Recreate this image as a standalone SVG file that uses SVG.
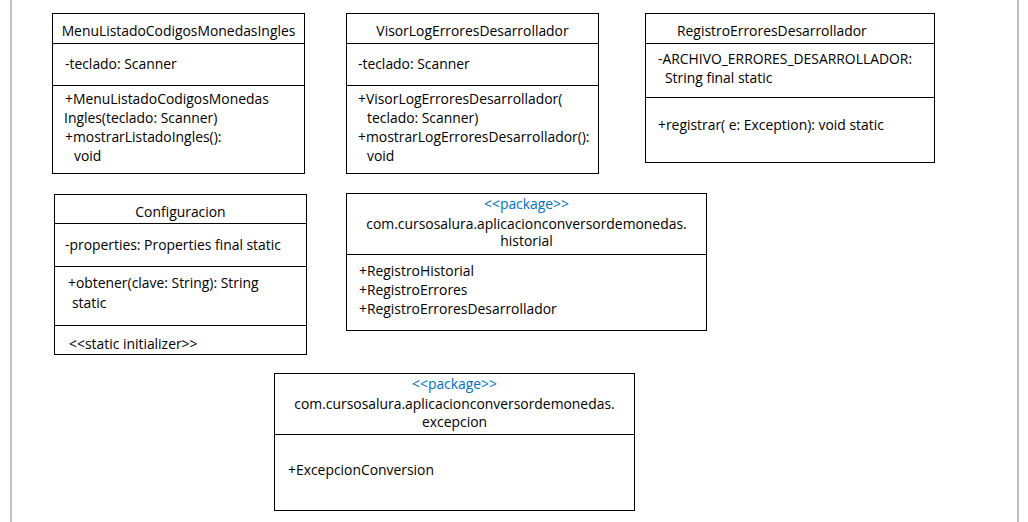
<svg xmlns="http://www.w3.org/2000/svg" width="1028" height="522" viewBox="0 0 1028 522">
<style>
.b{fill:#fff;stroke:#000;stroke-width:1}
.d{stroke:#000;stroke-width:1}
text{font-family:"Open Sans","Liberation Sans",sans-serif;font-size:13.9px;fill:#000}
.c{text-anchor:middle}
.p{fill:#0070C0}
.g{stroke:#c0c0c0;stroke-width:2}
</style>
<rect width="1028" height="522" fill="#fff"/>
<line class="g" x1="11" y1="0" x2="11" y2="522"/>
<line class="g" x1="1018" y1="0" x2="1018" y2="522"/>
<g id="connectors"></g>
<g id="MenuListadoCodigosMonedasIngles">
<rect class="b" x="52.5" y="13.5" width="252" height="160"/>
<line class="d" x1="52.5" y1="43.5" x2="304.5" y2="43.5"/>
<line class="d" x1="52.5" y1="85.5" x2="304.5" y2="85.5"/>
<text class="c" x="178.5" y="36">MenuListadoCodigosMonedasIngles</text>
<text x="65" y="69">-teclado: Scanner</text>
<text x="65" y="104">+MenuListadoCodigosMonedas</text>
<text x="64" y="123">Ingles(teclado: Scanner)</text>
<text x="65" y="142">+mostrarListadoIngles():</text>
<text x="74" y="161">void</text>
</g>
<g id="VisorLogErroresDesarrollador">
<rect class="b" x="346.5" y="13.5" width="252" height="160"/>
<line class="d" x1="346.5" y1="43.5" x2="598.5" y2="43.5"/>
<line class="d" x1="346.5" y1="85.5" x2="598.5" y2="85.5"/>
<text class="c" x="472.5" y="36">VisorLogErroresDesarrollador</text>
<text x="358" y="69">-teclado: Scanner</text>
<text x="358" y="104">+VisorLogErroresDesarrollador(</text>
<text x="367" y="123">teclado: Scanner)</text>
<text x="358" y="142">+mostrarLogErroresDesarrollador():</text>
<text x="367" y="161">void</text>
</g>
<g id="RegistroErroresDesarrollador">
<rect class="b" x="645.5" y="13.5" width="289" height="149"/>
<line class="d" x1="645.5" y1="43.5" x2="934.5" y2="43.5"/>
<line class="d" x1="645.5" y1="97.5" x2="934.5" y2="97.5"/>
<text x="677" y="36">RegistroErroresDesarrollador</text>
<text x="658" y="64">-ARCHIVO_ERRORES_DESARROLLADOR:</text>
<text x="665" y="83">String final static</text>
<text x="658" y="130">+registrar( e: Exception): void static</text>
</g>
<g id="Configuracion">
<rect class="b" x="54.5" y="194.5" width="252" height="160"/>
<line class="d" x1="54.5" y1="223.5" x2="306.5" y2="223.5"/>
<line class="d" x1="54.5" y1="266.5" x2="306.5" y2="266.5"/>
<line class="d" x1="54.5" y1="325.5" x2="306.5" y2="325.5"/>
<text class="c" x="180.5" y="217">Configuracion</text>
<text x="65" y="250">-properties: Properties final static</text>
<text x="68" y="288">+obtener(clave: String): String</text>
<text x="72" y="308">static</text>
<text x="69" y="349">&lt;&lt;static initializer&gt;&gt;</text>
</g>
<g id="package_historial">
<rect class="b" x="346.5" y="193.5" width="360" height="137"/>
<line class="d" x1="346.5" y1="254.5" x2="706.5" y2="254.5"/>
<text class="c p" x="526.5" y="209">&lt;&lt;package&gt;&gt;</text>
<text class="c" x="526.5" y="229">com.cursosalura.aplicacionconversordemonedas.</text>
<text class="c" x="526.5" y="246">historial</text>
<text x="359" y="276">+RegistroHistorial</text>
<text x="359" y="295">+RegistroErrores</text>
<text x="359" y="314">+RegistroErroresDesarrollador</text>
</g>
<g id="package_excepcion">
<rect class="b" x="274.5" y="373.5" width="360" height="137"/>
<line class="d" x1="274.5" y1="434.5" x2="634.5" y2="434.5"/>
<text class="c p" x="454.5" y="389">&lt;&lt;package&gt;&gt;</text>
<text class="c" x="454.5" y="409">com.cursosalura.aplicacionconversordemonedas.</text>
<text class="c" x="454.5" y="427">excepcion</text>
<text x="288" y="475">+ExcepcionConversion</text>
</g>
</svg>
